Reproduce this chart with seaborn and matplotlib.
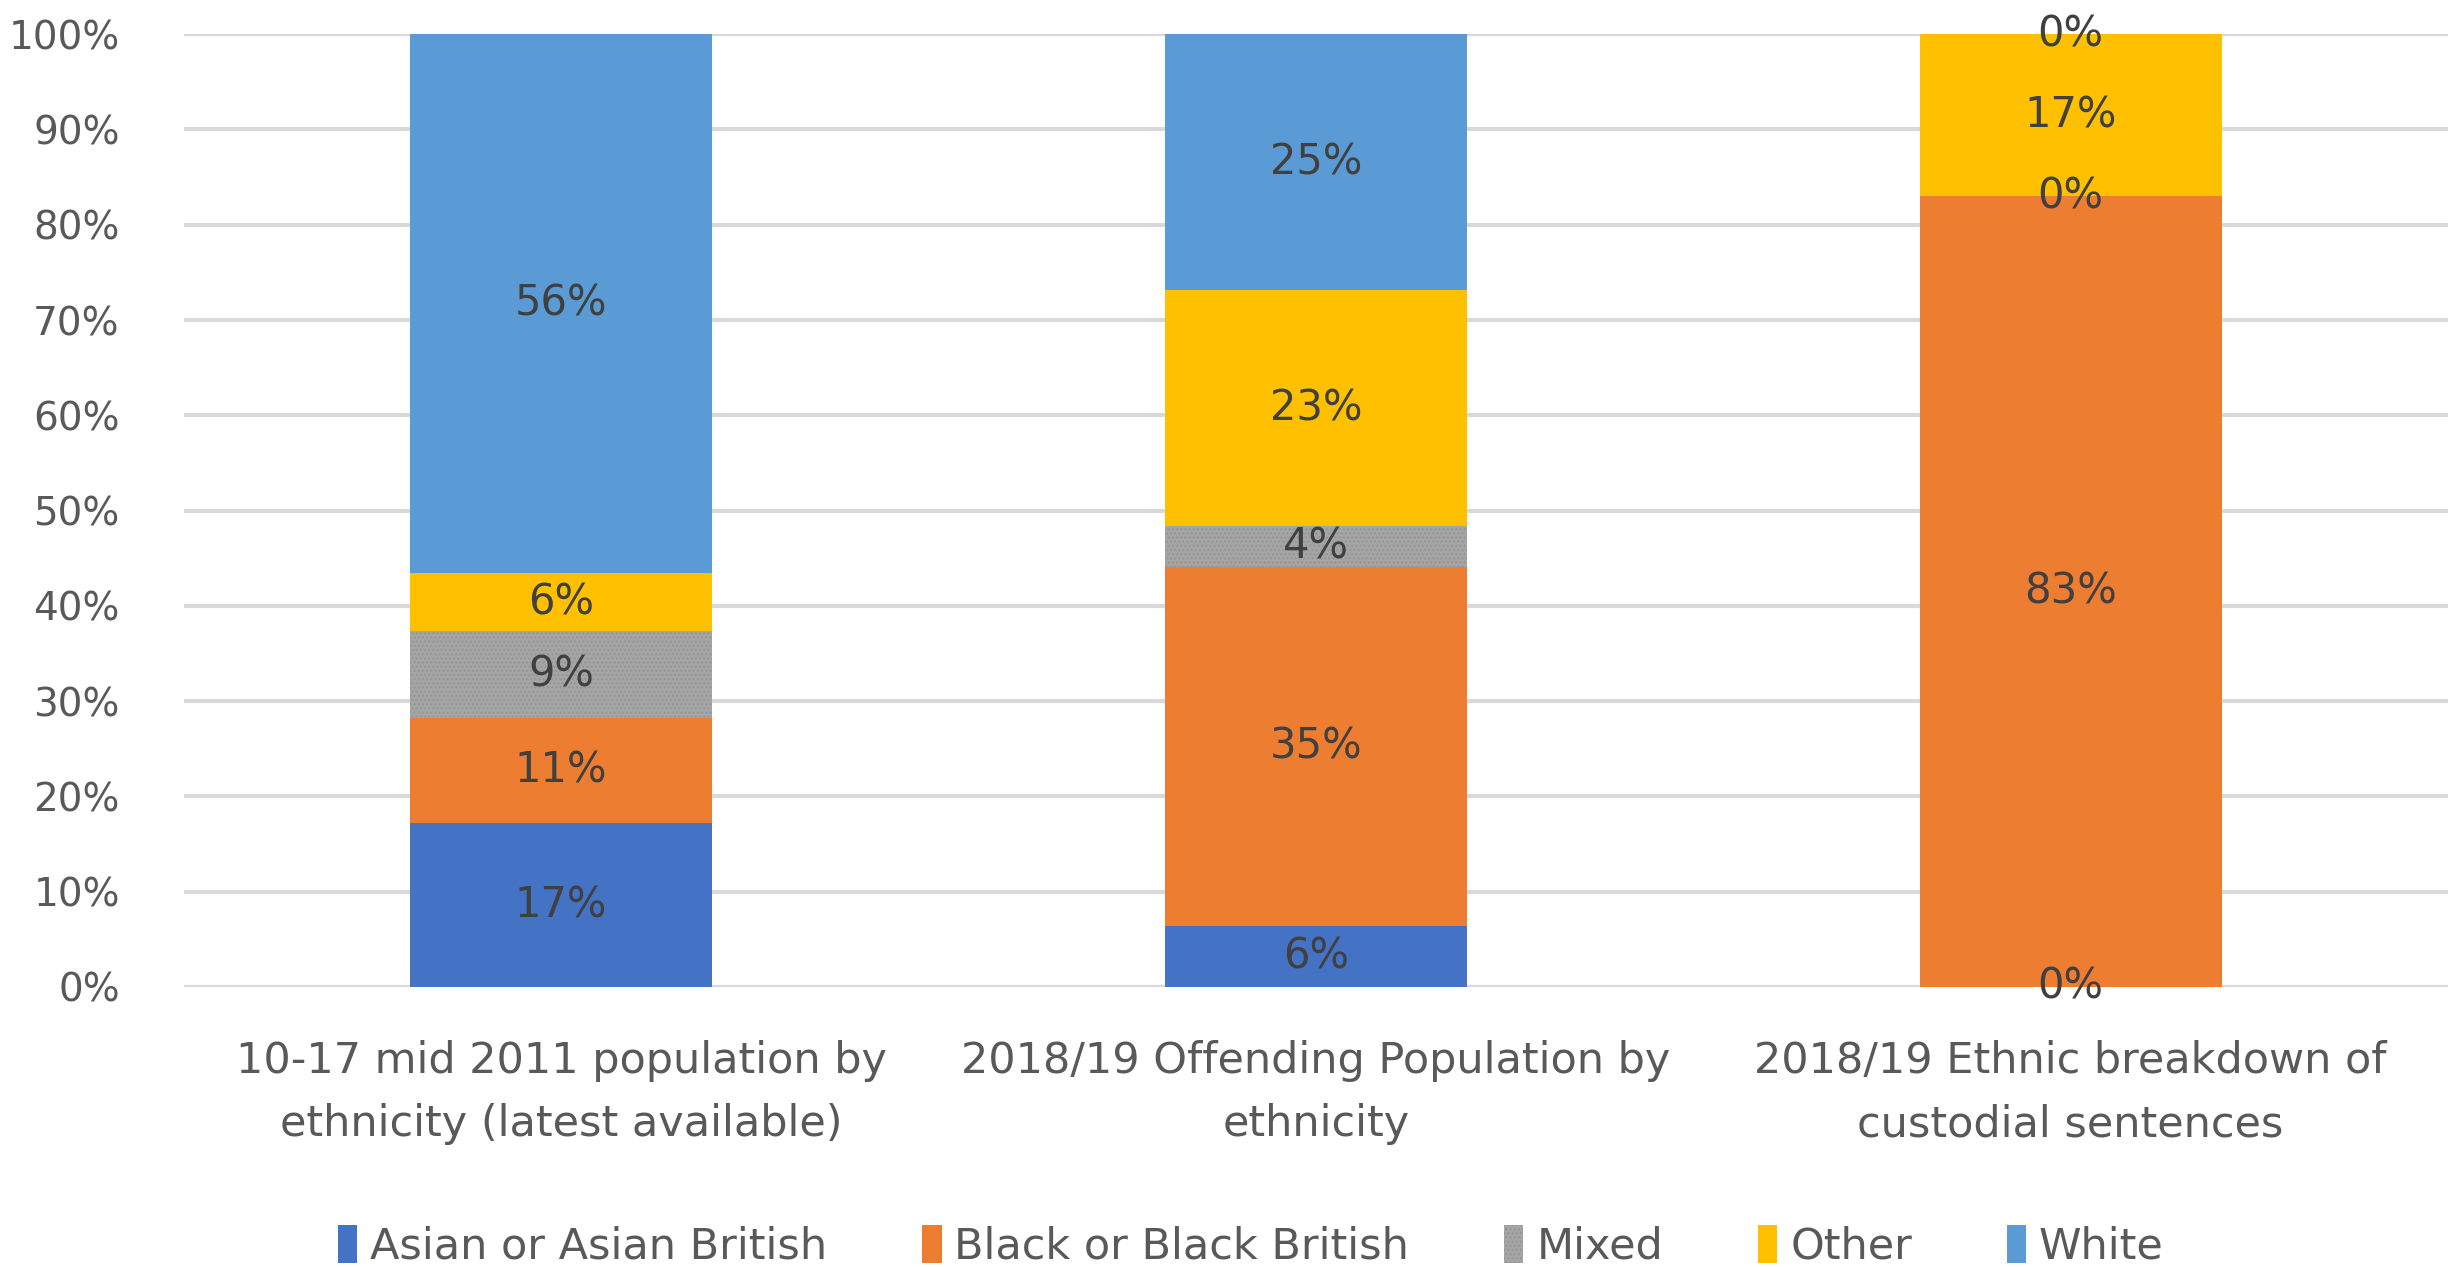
import matplotlib
matplotlib.use("Agg")
import matplotlib.pyplot as plt
from matplotlib.patches import Patch
import numpy as np
import pandas as pd
import seaborn as sns

# data (raw shares, chart is 100% stacked)
categories = ["10-17 mid 2011 population by\nethnicity (latest available)",
              "2018/19 Offending Population by\nethnicity",
              "2018/19 Ethnic breakdown of\ncustodial sentences"]
groups = ["Asian or Asian British", "Black or Black British", "Mixed", "Other", "White"]
asian = [17, 6, 0]
black = [11, 35, 83]
mixed = [9, 4, 0]
other = [6, 23, 17]
white = [56, 25, 0]
colors = ["#4472C4", "#ED7D31", "#A5A5A5", "#FFC000", "#5B9BD5"]

sns.set_style("white")
plt.rcParams['font.family'] = ['DejaVu Sans']

raw = np.array([asian, black, mixed, other, white], dtype=float)
share = raw / raw.sum(axis=0)
cum = share.cumsum(axis=0)

fig = plt.figure(figsize=(24.48, 12.67), dpi=100)
ax = fig.add_axes([0.075, 0.221, 0.925, 0.752])

# draw from top layer down so each later bar covers the lower part
for i in range(len(groups) - 1, -1, -1):
    df = pd.DataFrame({"cat": categories, "val": cum[i]})
    kw = dict(linewidth=0)
    if groups[i] == "Mixed":
        kw = dict(linewidth=0, edgecolor="#959595", hatch="....")
    sns.barplot(data=df, x="cat", y="val", color=colors[i], width=0.4,
                saturation=1, ax=ax, zorder=2, **kw)

# data labels
for j in range(len(categories)):
    for i in range(len(groups)):
        mid = cum[i, j] - share[i, j] / 2
        ax.text(j, mid, f"{raw[i, j]:.0f}%", ha="center", va="center",
                fontsize=30, color="#404040", zorder=5)

ax.set_ylim(0, 1)
ax.set_xlim(-0.5, 2.5)
ax.set_yticks(np.arange(0, 1.01, 0.1))
ax.set_yticklabels([f"{v}%" for v in range(0, 101, 10)], fontsize=28, color="#595959")
ax.tick_params(axis="x", labelsize=31, labelcolor="#595959", pad=38, length=0)
ax.tick_params(axis="y", pad=46, length=0)
ax.yaxis.grid(True, color="#D9D9D9", linewidth=3, zorder=0)
ax.set_axisbelow(True)
for s in ax.spines.values():
    s.set_visible(False)
ax.set_xlabel("")
ax.set_ylabel("")
for t in ax.get_xticklabels():
    t.set_linespacing(1.65)

handles = []
for g, c in zip(groups, colors):
    if g == "Mixed":
        handles.append(Patch(facecolor=c, edgecolor="#959595", hatch="....", linewidth=0, label=g))
    else:
        handles.append(Patch(facecolor=c, linewidth=0, label=g))
fig.legend(handles=handles, loc="lower center", bbox_to_anchor=(0.511, -0.031), ncol=5,
           frameon=False, fontsize=31, handlelength=0.45, handleheight=1.0,
           handletextpad=0.3, columnspacing=2.2, labelcolor="#595959")

fig.savefig("out.png", dpi=100)
